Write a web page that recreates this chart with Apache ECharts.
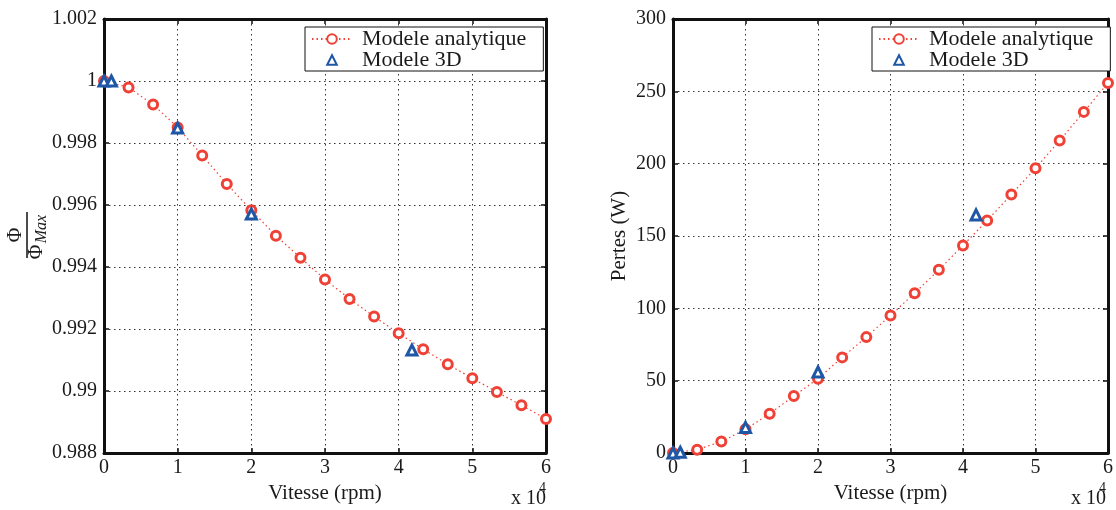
<!DOCTYPE html>
<html>
<head>
<meta charset="utf-8">
<script src="https://cdn.jsdelivr.net/npm/echarts@6/dist/echarts.min.js"></script>
<style>
html,body{margin:0;padding:0;background:#fff;}
#c{width:1116px;height:510px;}
</style>
</head>
<body>
<div id="c"></div>
<script>
// ---- data ----
var speedAnalytic = [0, 3333, 6667, 10000, 13333, 16667, 20000, 23333, 26667, 30000, 33333, 36667, 40000, 43333, 46667, 50000, 53333, 56667, 60000];
var fluxAnalytic = [1.0, 0.99979, 0.99924, 0.99850, 0.99760, 0.99668, 0.99583, 0.99501, 0.99430, 0.99360, 0.99297, 0.99240, 0.99186, 0.99135, 0.99086, 0.99041, 0.98997, 0.98954, 0.98910];
var lossAnalytic = [0, 2.3, 7.9, 16.4, 27.2, 39.4, 51.4, 66.1, 80.1, 95.1, 110.5, 126.6, 143.5, 160.7, 178.7, 196.8, 216.0, 235.8, 255.8];
var speed3D = [0, 1000, 10000, 20000, 41800];
var flux3D = [1.0, 1.0, 0.99848, 0.99571, 0.99132];
var loss3D = [0, 0.5, 17.7, 56.0, 164.6];
var seriesNames = ['Modele analytique', 'Modele 3D'];
var xAxisTitle = 'Vitesse (rpm)';
var yAxisTitleRight = 'Pertes (W)';

function pairs(xs, ys){ return xs.map(function(x,i){ return [x, ys[i]]; }); }

var FONT = '"Liberation Serif", serif';
var RED = '#ef4136';
var BLUE = '#1f57a7';
var TXT = '#1a1a1a';
var gridLine = {show:true, lineStyle:{color:'#333', width:1, type:[1.5,3.5]}};
var frameLine = {show:true, onZero:false, lineStyle:{color:'#111', width:3}};
var tickIn = {show:true, inside:true, length:5, lineStyle:{color:'#111', width:1.5}};

function xAxes(gi){
  return [
    {type:'value', gridIndex:gi, position:'bottom', min:0, max:60000, interval:10000,
     axisLine:frameLine, axisTick:tickIn, splitLine:gridLine,
     axisLabel:{margin:5, fontFamily:FONT, fontSize:20, color:TXT,
       formatter:function(v){ return String(Math.round(v/10000)); }},
     name:xAxisTitle, nameLocation:'middle', nameGap:28,
     nameTextStyle:{fontFamily:FONT, fontSize:21, color:TXT}},
    {type:'value', gridIndex:gi, position:'top', min:0, max:60000, interval:10000,
     axisLine:frameLine, axisTick:tickIn, splitLine:{show:false}, axisLabel:{show:false}}
  ];
}
function yAxes(gi, min, max, interval, fmt, name){
  return [
    {type:'value', gridIndex:gi, position:'left', min:min, max:max, interval:interval,
     axisLine:frameLine, axisTick:tickIn, splitLine:gridLine,
     axisLabel:{margin:7, fontFamily:FONT, fontSize:20, color:TXT, formatter:fmt},
     name:name, nameLocation:'middle', nameRotate:90, nameGap:43,
     nameTextStyle:{fontFamily:FONT, fontSize:21, color:TXT}},
    {type:'value', gridIndex:gi, position:'right', min:min, max:max, interval:interval,
     axisLine:frameLine, axisTick:tickIn, splitLine:{show:false}, axisLabel:{show:false}}
  ];
}

function analyticSeries(xi, yi, data){
  return {name:seriesNames[0], type:'line', xAxisIndex:xi, yAxisIndex:yi, data:data,
    symbol:'circle', symbolSize:9, clip:false,
    lineStyle:{color:RED, width:1.2, type:[1.5,3]},
    itemStyle:{color:'#fff', borderColor:RED, borderWidth:3}, z:2};
}
function series3D(xi, yi, data){
  return {name:seriesNames[1], type:'line', xAxisIndex:xi, yAxisIndex:yi, data:data,
    symbol:'triangle', symbolSize:10, clip:false,
    lineStyle:{opacity:0, width:0},
    itemStyle:{color:'#fff', borderColor:BLUE, borderWidth:3}, z:3};
}
function legendAt(left){
  return {left:left, top:27, orient:'vertical', data:seriesNames,
    backgroundColor:'#fff', borderColor:'#111', borderWidth:1, borderRadius:0,
    padding:[1,17,0,6], itemGap:-1, itemWidth:40, itemHeight:12,
    textStyle:{fontFamily:FONT, fontSize:22, lineHeight:19, color:TXT, padding:[0,0,0,5]}};
}

var option = {
  animation:false,
  backgroundColor:'#fff',
  grid:[
    {left:104, top:19, width:442, height:434},
    {left:673, top:19, width:442, height:434}
  ],
  xAxis: xAxes(0).concat(xAxes(1)),
  yAxis: yAxes(0, 0.988, 1.002, 0.002, function(v){ return String(+v.toFixed(3)); }, '')
         .concat(yAxes(1, 0, 300, 50, function(v){ return String(Math.round(v)); }, yAxisTitleRight)),
  legend:[legendAt(305), legendAt(872)],
  series:[
    analyticSeries(0, 0, pairs(speedAnalytic, fluxAnalytic)),
    series3D(0, 0, pairs(speed3D, flux3D)),
    analyticSeries(2, 2, pairs(speedAnalytic, lossAnalytic)),
    series3D(2, 2, pairs(speed3D, loss3D))
  ],
  graphic:[
    {type:'group', x:27, y:235, rotation:Math.PI/2, children:[
      {type:'text', x:0, y:-11, style:{text:'Φ', font:'20px "Liberation Serif"', fill:TXT, align:'center', verticalAlign:'middle'}},
      {type:'line', shape:{x1:-23, y1:0, x2:23, y2:0}, style:{stroke:'#111', lineWidth:1.5}},
      {type:'text', x:-17, y:10, style:{text:'Φ', font:'20px "Liberation Serif"', fill:TXT, align:'center', verticalAlign:'middle'}},
      {type:'text', x:6, y:15, style:{text:'Max', font:'italic 16px "Liberation Serif"', fill:TXT, align:'center', verticalAlign:'middle'}}
    ]},
    {type:'text', left:511, top:489, style:{text:'x 10', font:'20px "Liberation Serif"', fill:TXT}},
    {type:'text', left:539, top:481, style:{text:'4', font:'14px "Liberation Serif"', fill:TXT}},
    {type:'text', left:1071, top:489, style:{text:'x 10', font:'20px "Liberation Serif"', fill:TXT}},
    {type:'text', left:1099, top:481, style:{text:'4', font:'14px "Liberation Serif"', fill:TXT}}
  ]
};

var chart = echarts.init(document.getElementById('c'), null, {renderer:'canvas'});
chart.setOption(option);
</script>
</body>
</html>
